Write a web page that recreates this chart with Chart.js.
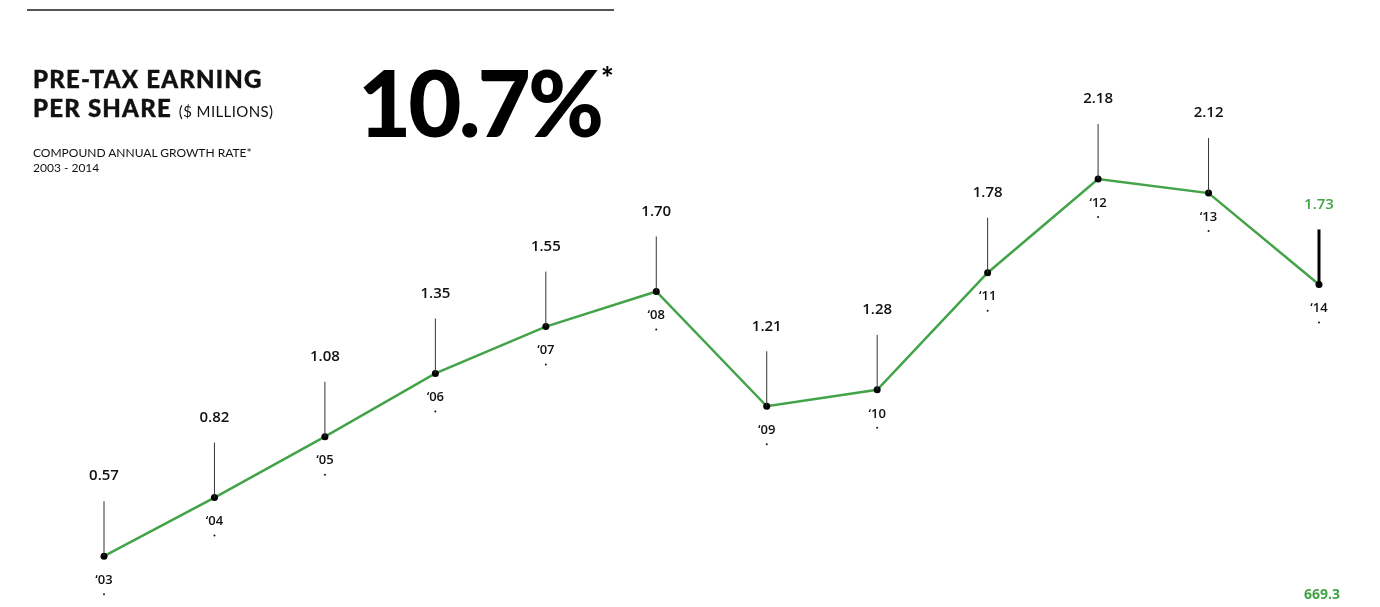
<!DOCTYPE html>
<html>
<head>
<meta charset="utf-8">
<script src="https://cdn.jsdelivr.net/npm/chart.js@4/dist/chart.umd.min.js"></script>
<style>
  html, body { margin: 0; padding: 0; background: #fff; }
  #wrap { position: relative; width: 1380px; height: 607px; overflow: hidden; }
  #eps { position: absolute; left: 0; top: 0; }
  .rule { position: absolute; left: 27px; top: 9px; width: 587px; height: 2px; background: #555; }
  .title { position: absolute; left: 33px; top: 64px; font-family: 'Lato', sans-serif; font-weight: 900;
           font-size: 24px; line-height: 29px; letter-spacing: 1.2px; color: #111;
           -webkit-text-stroke: 0.4px #111; }
  .title small { font-weight: 400; font-size: 15px; letter-spacing: 0.4px; -webkit-text-stroke: 0; }
  .sub { position: absolute; left: 33px; top: 145px; font-family: 'Lato', sans-serif; font-size: 12px;
         line-height: 15px; color: #111; }
  .big { position: absolute; left: 358px; top: 38px; font-family: 'Lato', sans-serif; font-weight: 900;
         font-size: 92px; line-height: 110px; letter-spacing: -3px; color: #000; }
  .big sup { font-size: 30px; position: relative; top: -16px; margin-left: 0; letter-spacing: 0; }
</style>
</head>
<body>
<div id="wrap">
  <canvas id="eps" width="1380" height="607"></canvas>
  <div class="rule"></div>
  <div class="title">PRE-TAX EARNING<br>PER SHARE <small>($ MILLIONS)</small></div>
  <div class="sub">COMPOUND ANNUAL GROWTH RATE*<br>2003 - 2014</div>
  <div class="big">10.7%<sup>*</sup></div>
</div>
<script>
(function () {
    'use strict';

    var years = ['\u201803', '\u201804', '\u201805', '\u201806', '\u201807', '\u201808',
                 '\u201809', '\u201810', '\u201811', '\u201812', '\u201813', '\u201814'];
    var eps = [0.57, 0.82, 1.08, 1.35, 1.55, 1.70, 1.21, 1.28, 1.78, 2.18, 2.12, 1.73];
    var footValue = '669.3';

    var GREEN = '#43a348';
    var FONT = "'Open Sans', sans-serif";

    // sticks, value labels above and year labels below each point
    var labelPlugin = {
        id: 'epsLabels',
        afterDatasetsDraw: function (chart) {
            var ctx = chart.ctx;
            var meta = chart.getDatasetMeta(0);
            var last = eps.length - 1;
            ctx.save();
            meta.data.forEach(function (pt, i) {
                var x = pt.x, y = pt.y;
                ctx.beginPath();
                ctx.strokeStyle = i === last ? '#000' : '#333';
                ctx.lineWidth = i === last ? 3 : 1;
                ctx.moveTo(x, y - 55);
                ctx.lineTo(x, y);
                ctx.stroke();

                ctx.textAlign = 'center';
                ctx.textBaseline = 'middle';
                ctx.fillStyle = i === last ? GREEN : '#111';
                ctx.font = '600 15px ' + FONT;
                ctx.fillText(eps[i].toFixed(2), x, y - 80);

                ctx.fillStyle = '#111';
                ctx.font = '600 13px ' + FONT;
                ctx.fillText(years[i], x, y + 24);
                ctx.beginPath();
                ctx.arc(x, y + 38, 1, 0, Math.PI * 2);
                ctx.fill();
            });
            ctx.fillStyle = GREEN;
            ctx.font = '700 14px ' + FONT;
            ctx.textAlign = 'center';
            ctx.fillText(footValue, 1322, 595);
            ctx.restore();
        }
    };

    // green line under the sticks, black points on top
    new Chart(document.getElementById('eps'), {
        type: 'line',
        data: {
            labels: years,
            datasets: [{
                data: eps,
                borderColor: GREEN,
                borderWidth: 2.5,
                pointRadius: 3.5,
                pointBackgroundColor: '#000',
                pointBorderWidth: 0,
                tension: 0,
                clip: false
            }]
        },
        options: {
            responsive: false,
            animation: false,
            events: [],
            layout: { padding: { left: 104, right: 61, top: 127.5, bottom: 11 } },
            plugins: { legend: { display: false }, tooltip: { enabled: false } },
            scales: {
                x: { display: false, offset: false },
                y: { display: false, min: 0.4, max: 2.4 }
            }
        },
        plugins: [labelPlugin]
    });
})();
</script>
</body>
</html>
